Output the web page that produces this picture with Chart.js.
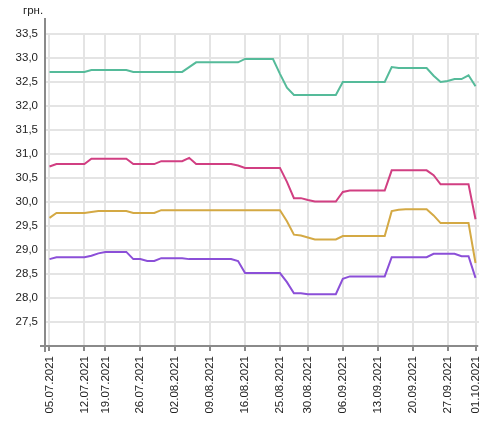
<!DOCTYPE html>
<html>
<head>
<meta charset="utf-8">
<script src="https://cdn.jsdelivr.net/npm/chart.js@4"></script>
<style>
  html, body { margin: 0; padding: 0; background: #fff; }
</style>
</head>
<body>
<canvas id="grafico" width="495" height="426"></canvas>
<script>
// dias com cotação (só dias úteis, 28.08 foi dia de trabalho)
const datas = [
  '05.07.2021','06.07.2021','07.07.2021','08.07.2021','09.07.2021',
  '12.07.2021','13.07.2021','15.07.2021',
  '19.07.2021','20.07.2021','21.07.2021','22.07.2021','23.07.2021',
  '26.07.2021','27.07.2021','28.07.2021','29.07.2021','30.07.2021',
  '02.08.2021','03.08.2021','04.08.2021','05.08.2021','06.08.2021',
  '09.08.2021','10.08.2021','11.08.2021','12.08.2021','13.08.2021',
  '16.08.2021','17.08.2021','18.08.2021','19.08.2021','20.08.2021',
  '25.08.2021','26.08.2021','27.08.2021','28.08.2021',
  '30.08.2021','31.08.2021','01.09.2021','02.09.2021','03.09.2021',
  '06.09.2021','07.09.2021','08.09.2021','09.09.2021','10.09.2021',
  '13.09.2021','14.09.2021','15.09.2021','16.09.2021','17.09.2021',
  '20.09.2021','21.09.2021','22.09.2021','23.09.2021','24.09.2021',
  '27.09.2021','28.09.2021','29.09.2021','30.09.2021',
  '01.10.2021'
];

// datas que aparecem no eixo x
const datasEixo = [
  '05.07.2021','12.07.2021','19.07.2021','26.07.2021','02.08.2021',
  '09.08.2021','16.08.2021','25.08.2021','30.08.2021','06.09.2021',
  '13.09.2021','20.09.2021','27.09.2021','01.10.2021'
];

const serieVerde = [
  32.71, 32.71, 32.71, 32.71, 32.71,
  32.71, 32.75, 32.75,
  32.75, 32.75, 32.75, 32.75, 32.71,
  32.71, 32.71, 32.71, 32.71, 32.71,
  32.71, 32.71, 32.81, 32.91, 32.91,
  32.91, 32.91, 32.91, 32.91, 32.91,
  32.98, 32.98, 32.98, 32.98, 32.98,
  32.67, 32.38, 32.23, 32.23,
  32.23, 32.23, 32.23, 32.23, 32.23,
  32.50, 32.50, 32.50, 32.50, 32.50,
  32.50, 32.50, 32.81, 32.79, 32.79,
  32.79, 32.79, 32.79, 32.63, 32.50,
  32.52, 32.56, 32.56, 32.64,
  32.41
];

const serieRosa = [
  30.74, 30.79, 30.79, 30.79, 30.79,
  30.79, 30.90, 30.90,
  30.90, 30.90, 30.90, 30.90, 30.79,
  30.79, 30.79, 30.79, 30.85, 30.85,
  30.85, 30.85, 30.92, 30.79, 30.79,
  30.79, 30.79, 30.79, 30.79, 30.76,
  30.71, 30.71, 30.71, 30.71, 30.71,
  30.71, 30.42, 30.08, 30.08,
  30.04, 30.01, 30.01, 30.01, 30.01,
  30.21, 30.24, 30.24, 30.24, 30.24,
  30.24, 30.24, 30.66, 30.66, 30.66,
  30.66, 30.66, 30.66, 30.56, 30.37,
  30.37, 30.37, 30.37, 30.37,
  29.64
];

const serieOuro = [
  29.67, 29.77, 29.77, 29.77, 29.77,
  29.77, 29.79, 29.81,
  29.81, 29.81, 29.81, 29.81, 29.77,
  29.77, 29.77, 29.77, 29.83, 29.83,
  29.83, 29.83, 29.83, 29.83, 29.83,
  29.83, 29.83, 29.83, 29.83, 29.83,
  29.83, 29.83, 29.83, 29.83, 29.83,
  29.83, 29.60, 29.32, 29.30,
  29.26, 29.22, 29.22, 29.22, 29.22,
  29.29, 29.29, 29.29, 29.29, 29.29,
  29.29, 29.29, 29.81, 29.84, 29.85,
  29.85, 29.85, 29.85, 29.72, 29.56,
  29.56, 29.56, 29.56, 29.56,
  28.73
];

const serieRoxa = [
  28.81, 28.85, 28.85, 28.85, 28.85,
  28.85, 28.88, 28.93,
  28.96, 28.96, 28.96, 28.96, 28.81,
  28.81, 28.77, 28.77, 28.83, 28.83,
  28.83, 28.83, 28.81, 28.81, 28.81,
  28.81, 28.81, 28.81, 28.81, 28.77,
  28.52, 28.52, 28.52, 28.52, 28.52,
  28.52, 28.33, 28.10, 28.10,
  28.08, 28.08, 28.08, 28.08, 28.08,
  28.40, 28.45, 28.45, 28.45, 28.45,
  28.45, 28.45, 28.85, 28.85, 28.85,
  28.85, 28.85, 28.85, 28.92, 28.92,
  28.92, 28.92, 28.87, 28.87,
  28.42
];

const fonte = { family: '"Liberation Sans", Arial, sans-serif', size: 11.5 };
const corTexto = '#222';
const corGrade = '#e4e4e4';
const corEixo = '#8a8a8a';

// linhas dos eixos passam um pouco uma da outra, e o "грн." no topo
const eixosPlugin = {
  id: 'eixos',
  afterDraw(chart) {
    const { ctx, chartArea: a } = chart;
    ctx.save();
    ctx.strokeStyle = corEixo;
    ctx.lineWidth = 2;
    ctx.beginPath();
    ctx.moveTo(a.left - 1, 18);
    ctx.lineTo(a.left - 1, a.bottom + 6);
    ctx.moveTo(a.left - 6, a.bottom);
    ctx.lineTo(a.right - 1, a.bottom);
    ctx.stroke();

    ctx.fillStyle = corTexto;
    ctx.font = '11.5px "Liberation Sans", Arial, sans-serif';
    ctx.textBaseline = 'alphabetic';
    ctx.fillText('грн.', 23, 13.5);
    ctx.restore();
  }
};

function linha(dados, cor) {
  return {
    data: dados,
    borderColor: cor,
    borderWidth: 2,
    pointRadius: 0,
    tension: 0,
    fill: false
  };
}

const ctx = document.getElementById('grafico');

new Chart(ctx, {
  type: 'line',
  data: {
    labels: datas,
    datasets: [
      linha(serieVerde, '#55bb9a'),
      linha(serieRosa, '#d13f82'),
      linha(serieOuro, '#d4a944'),
      linha(serieRoxa, '#8b4fd8')
    ]
  },
  options: {
    responsive: false,
    animation: false,
    layout: { padding: { top: 34, right: 16, left: 0, bottom: 0 } },
    plugins: {
      legend: { display: false },
      tooltip: { enabled: false }
    },
    scales: {
      x: {
        type: 'category',
        offset: true,
        grid: {
          offset: false,
          color: corGrade,
          lineWidth: 2,
          tickColor: corEixo,
          tickWidth: 2,
          tickLength: 5
        },
        border: { display: false },
        ticks: {
          autoSkip: false,
          minRotation: 90,
          maxRotation: 90,
          padding: 5,
          color: corTexto,
          font: fonte
        },
        afterBuildTicks: (scale) => {
          scale.ticks = scale.ticks.filter(t => datasEixo.includes(datas[t.value]));
        },
        afterFit: (scale) => { scale.height = 80; }
      },
      y: {
        min: 27,
        max: 33.5,
        grid: { color: corGrade, lineWidth: 2, drawTicks: false },
        border: { display: false },
        ticks: {
          stepSize: 0.5,
          padding: 8,
          color: corTexto,
          font: fonte,
          callback: (v) => v === 27 ? '' : v.toFixed(1).replace('.', ',')
        },
        afterFit: (scale) => { scale.width = 46; }
      }
    }
  },
  plugins: [eixosPlugin]
});
</script>
</body>
</html>
